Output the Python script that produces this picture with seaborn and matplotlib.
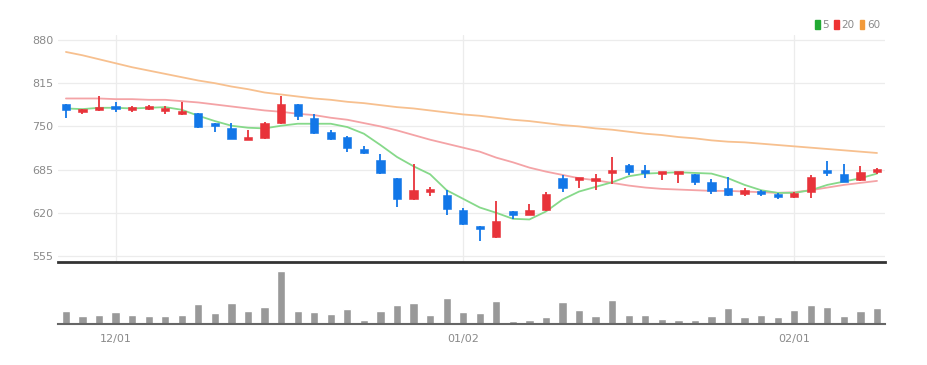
import numpy as np
import pandas as pd
import seaborn as sns
import matplotlib.pyplot as plt
from matplotlib.patches import Patch

# Dane świecowe
opens = [784, 772, 776, 780, 776, 777, 774, 769, 770, 755,
         748, 730, 732, 755, 783, 762, 741, 734, 716, 700,
         672, 641, 652, 647, 624, 600, 583, 623, 617, 624,
         672, 671, 669, 680, 692, 684, 679, 679, 678, 667,
         658, 648, 653, 649, 644, 651, 683, 679, 669, 683]
highs = [784, 776, 795, 786, 781, 782, 781, 786, 770, 755,
         755, 745, 756, 795, 784, 769, 745, 735, 721, 708,
         672, 693, 659, 654, 627, 600, 638, 623, 633, 651,
         677, 673, 678, 704, 693, 692, 681, 682, 679, 671,
         674, 657, 655, 650, 651, 677, 698, 693, 690, 687]
lows = [763, 769, 773, 771, 771, 775, 769, 767, 747, 741,
        731, 729, 731, 754, 760, 739, 730, 712, 709, 679,
        628, 640, 646, 617, 602, 578, 582, 610, 616, 623,
        652, 657, 654, 664, 677, 673, 670, 665, 662, 649,
        645, 645, 645, 641, 643, 642, 675, 666, 668, 678]
closes = [774, 775, 779, 777, 779, 781, 776, 772, 749, 752,
          731, 733, 755, 783, 765, 740, 731, 718, 710, 680,
          641, 654, 655, 625, 603, 595, 608, 617, 624, 648,
          657, 673, 671, 683, 682, 680, 681, 681, 667, 653,
          647, 655, 649, 644, 650, 674, 680, 667, 681, 685]
volumes = [38, 23, 26, 36, 28, 23, 23, 28, 61, 33,
           63, 38, 50, 161, 38, 36, 31, 46, 12, 38,
           58, 63, 28, 78, 36, 32, 70, 10, 12, 22,
           65, 42, 25, 72, 27, 27, 16, 11, 12, 25,
           47, 22, 27, 20, 42, 57, 52, 25, 40, 49]

# Średnie kroczące
ma5 = [777, 776, 778, 778, 777, 778, 779, 775, 766, 758,
       751, 748, 747, 751, 754, 754, 754, 749, 739, 722,
       704, 690, 678, 654, 641, 628, 620, 611, 610, 622,
       640, 652, 659, 666, 675, 679, 680, 681, 680, 679,
       672, 662, 654, 650, 650, 654, 662, 667, 672, 679]
ma20 = [792, 792, 792, 791, 791, 790, 790, 788, 786, 783,
        780, 777, 774, 772, 769, 767, 763, 760, 755, 750,
        744, 737, 730, 724, 718, 712, 703, 696, 688, 682,
        677, 672, 669, 665, 661, 658, 656, 655, 654, 653,
        653, 652, 651, 650, 651, 654, 658, 662, 665, 668]
ma60 = [862, 857, 851, 845, 839, 834, 829, 824, 819, 815,
        810, 806, 801, 798, 795, 792, 790, 787, 785, 782,
        779, 777, 774, 771, 768, 766, 763, 760, 758, 755,
        752, 750, 747, 745, 742, 739, 737, 734, 732, 729,
        727, 726, 724, 722, 720, 718, 716, 714, 712, 710]

tick_index = [3, 24, 44]
tick_labels = ["12/01", "01/02", "02/01"]
price_ticks = [555, 620, 685, 750, 815, 880]

df = pd.DataFrame({"open": opens, "high": highs, "low": lows, "close": closes,
                   "volume": volumes, "ma5": ma5, "ma20": ma20, "ma60": ma60})
df["idx"] = np.arange(len(df))

UP = "#e8333a"
DOWN = "#1277e8"
FONT = ["Liberation Sans Narrow", "DejaVu Sans"]

sns.set_style("white")
plt.rcParams["font.family"] = FONT

fig = plt.figure(figsize=(9.27, 3.65), dpi=100)
ax = fig.add_axes([0.0622, 0.2822, 0.8928, 0.6219])
axv = fig.add_axes([0.0622, 0.1123, 0.8928, 0.1589])

# Linie średnich
sns.lineplot(data=df, x="idx", y="ma60", ax=ax, color="#f7c08f", lw=1.3, zorder=2)
sns.lineplot(data=df, x="idx", y="ma20", ax=ax, color="#f4a3a6", lw=1.3, zorder=2)
sns.lineplot(data=df, x="idx", y="ma5", ax=ax, color="#86d98a", lw=1.3, zorder=2)

# Świece
up = df["close"] >= df["open"]
colors = np.where(up, UP, DOWN)
ax.vlines(df["idx"], df["low"], df["high"], colors=colors, lw=1.3, zorder=3)
body_h = np.maximum(np.abs(df["close"] - df["open"]), 4.5)
body_mid = (df["open"] + df["close"]) / 2
ax.bar(df["idx"], body_h, bottom=body_mid - body_h / 2, width=0.5,
       color=colors, edgecolor=colors, linewidth=0.4, zorder=4)

ax.set_xlim(-0.5, len(df) - 0.5)
ax.set_ylim(546, 887.5)
ax.set_yticks(price_ticks)
ax.set_xticks(tick_index)
ax.set_xticklabels([])
ax.tick_params(axis="both", length=0, labelsize=8, labelcolor="#8a8a8a", pad=3)
ax.grid(True, color="#ececec", lw=0.9)
ax.set_axisbelow(True)
ax.set_xlabel("")
ax.set_ylabel("")
for s in ["left", "top", "right"]:
    ax.spines[s].set_visible(False)
ax.spines["bottom"].set_color("#333333")
ax.spines["bottom"].set_linewidth(2)

# Legenda
handles = [Patch(color="#22aa33", label="5"), Patch(color="#ee3333", label="20"),
           Patch(color="#f29a3a", label="60")]
leg = ax.legend(handles=handles, ncol=3, frameon=False, loc="lower right",
                bbox_to_anchor=(1.0, 1.0), handlelength=0.45, handleheight=0.9,
                handletextpad=0.25, columnspacing=0.5, borderaxespad=0.1,
                fontsize=7.5, labelcolor="#8a8a8a")

# Wolumen
sns.barplot(data=df, x="idx", y="volume", ax=axv, color="#999999",
            width=0.5, saturation=1)
axv.set_xlim(-0.5, len(df) - 0.5)
axv.set_ylim(0, 175)
axv.set_yticks([])
axv.set_xticks(tick_index)
axv.set_xticklabels(tick_labels)
axv.tick_params(axis="x", length=4, width=1, color="#555555", labelsize=8,
                labelcolor="#8a8a8a", pad=3)
axv.set_xlabel("")
axv.set_ylabel("")
for s in ["left", "top", "right"]:
    axv.spines[s].set_visible(False)
axv.spines["bottom"].set_color("#666666")
axv.spines["bottom"].set_linewidth(1.5)

fig.savefig("out.png", dpi=100)
